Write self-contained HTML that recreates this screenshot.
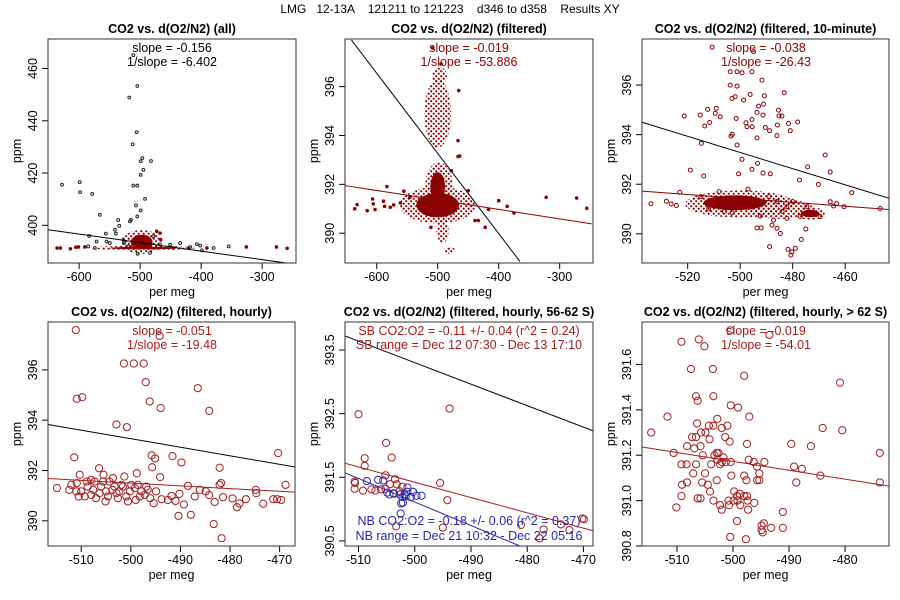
<!DOCTYPE html>
<html><head><meta charset="utf-8"><style>
html,body{margin:0;padding:0;background:#fff}
svg{display:block;font-family:"Liberation Sans",sans-serif}
</style></head><body>
<svg id="chart" width="900" height="600" viewBox="0 0 900 600">
<defs>
<pattern id="speckle" width="5" height="5" patternUnits="userSpaceOnUse">
<circle cx="1.2" cy="1.2" r="1.1" fill="#8b0000"/><circle cx="3.7" cy="3.7" r="1.1" fill="#8b0000"/>
</pattern>
</defs>
<text x="450" y="13" text-anchor="middle" font-size="12" xml:space="preserve">LMG   12-13A    121211 to 121223    d346 to d358    Results XY</text>
</svg>
<script>
// ---- Panel 1 (all)
const p1Black = [[-628,415.5],[-598.9,416.5],[-598.4,412.7],[-578.6,412],[-566,404],[-583.6,395.9],[-535.9,402],[-534.2,399.8],[-541.3,398.3],[-556.1,396.8],[-555,393.8],[-517.8,448.9],[-504.6,453.3],[-512.3,431],[-505.7,435.6],[-496.4,425.7],[-494.7,421.2],[-499.1,419.3],[-499.1,424.5],[-511.2,415.2],[-504.6,415.2],[-506.8,407.6],[-499.1,405.7],[-504.6,403.4],[-492,410.1],[-482.1,424.6],[-516.7,401.5],[-515,402.1],[-539.7,396.8],[-549.6,393.2],[-526.5,393.2],[-478.3,395.8],[-467.3,392.6],[-450.9,392.6],[-434.4,393.2],[-418,391.7],[-407,392.8],[-401.5,392.2],[-398.8,390.4],[-379.6,391.3],[-354.9,391.9],[-511.2,465.1],[-527.6,394.5],[-519.4,391.9],[-571.5,393.8],[-585.2,391.9],[-574.2,391.3],[-483.8,389.4],[-504.1,389.1]];
const p1Red = [[-636.2,391.3],[-630.7,391.3],[-614.3,391],[-605.5,391.6],[-601.1,391.7],[-590.7,391.7],[-325.9,391.7],[-276.5,391.7],[-259,391.2],[-390.6,391.3],[-420.7,391.3],[-445.4,391.3],[-466.2,394.5],[-467.3,397],[-472.8,397.7]];
const p1Solid = [[-497.5,393.6,18,2.8],[-494.7,391.3,55,0.5]];
const p1Speckle = [[-497.5,393.6,32,4.6],[-494.7,391.3,85,0.9]];
const p1Fit = [-651,398.3,-261.7,385.6];
// ---- Panel 2 (filtered)
const p2Red = [[-636.1,391],[-632.2,391.17],[-615.6,390.92],[-605.6,391.2],[-606.7,391.4],[-602.8,390.97],[-588.9,391.31],[-587.2,391.1],[-583.3,391.91],[-577.8,391.06],[-572.2,391.16],[-561.1,391.24],[-555.6,391.72],[-545.6,391.47],[-322.2,391.47],[-272.2,391.44],[-255.6,391.02],[-375,390.83],[-400,391.33],[-386.1,391.1],[-416.7,390.97],[-422.2,390.24],[-433.3,390.52],[-465.6,395.84],[-466.7,393.79],[-466.7,393.14],[-463.9,393.16],[-477.8,392.56],[-450,391.74],[-511.1,390.24],[-438.9,390.52],[-494.4,396.93],[-508.3,397.58]];
const p2Solid = [[-500,391.15,35,0.5],[-500,391.9,12,0.6]];
const p2Speckle = [[-500,391.15,62,0.75],[-498,392.0,22,0.9],[-500,394.9,22,1.4],[-497,396.45,12,0.35],[-492,390.1,10,0.5],[-480.6,389.3,9,0.14]];
const p2FitBlack = [-641.5,397.91,-365.1,388.84];
const p2FitRed = [-651.9,391.95,-247.5,390.38];
// ---- Panel 3 (10-minute)
const p3Red = [[-510.7,397.53],[-494.9,397.35],[-503.8,396.54],[-501.2,396.54],[-499.3,396.5],[-495.5,396.54],[-491.7,396.2],[-503.8,396],[-501.2,395.96],[-496.2,395.62],[-490.8,395.57],[-483.2,395.69],[-503.1,395.46],[-501.9,395.53],[-498.7,395.39],[-493,395.15],[-491.1,395.23],[-521.3,394.75],[-512.4,395.02],[-509.1,395.06],[-509.5,394.86],[-515.2,394.79],[-513.5,394.35],[-511.6,394.49],[-507.6,394.72],[-501.5,394.65],[-497.8,394.48],[-495.5,394.61],[-493.6,394.9],[-491.3,394.79],[-485.4,394.99],[-481.6,394.45],[-478.1,394.51],[-485.2,394.76],[-497.4,394.32],[-495.4,394.32],[-490.4,394.29],[-488.8,394.16],[-485.8,394.39],[-503.5,393.94],[-503,394.01],[-493.6,393.87],[-486,393.96],[-480.9,394.16],[-514.8,393.65],[-501.2,393.58],[-484.1,394.75],[-467.6,393.18],[-474.3,392.7],[-465.7,392.49],[-499.3,393],[-493.4,392.84],[-495.5,392.6],[-488.5,392.42],[-491.3,392.45],[-519,392.57],[-513.9,392.33],[-500.6,392.42],[-477.4,392.17],[-470.2,391.99],[-457.5,391.66],[-523,391.67],[-534,391.21],[-528.1,391.31],[-526.3,391.2],[-524.3,391.14],[-493.6,390.24],[-492,390.24],[-487.9,390.35],[-486,390.22],[-484.7,390.01],[-475,390.19],[-476.7,389.77],[-488.8,389.48],[-481.8,389.37],[-480.7,389.14],[-479,389.41],[-480.3,389.27],[-492.3,390.71],[-487.3,390.55],[-482.2,390.62],[-477.1,390.69],[-472.1,390.82],[-469.5,390.69],[-482.2,391.09],[-474.6,391.09],[-464.4,391.12],[-460.4,391.09],[-446.7,391.02],[-465.7,391.29],[-463.2,391.22],[-515,391.5],[-512,391.0],[-508,391.7],[-506,390.9],[-489,391.5],[-486,391.3],[-484,390.9],[-480,391.3],[-497,391.8],[-503,390.85]];
const p3Solid = [[-502,391.25,12,0.3],[-473.3,390.82,3.5,0.15]];
const p3Speckle = [[-500,391.2,21,0.55],[-485,391.0,13,0.4],[-473.3,390.82,6,0.25]];
const p3FitBlack = [-537.4,394.5,-443.3,391.43];
const p3FitRed = [-537.4,391.72,-443.3,390.98];
// ---- Panel 4 (hourly)
const p4Red = [[-511.1,397.58],[-494.2,397.35],[-501.4,396.25],[-499.4,396.25],[-497.4,396.25],[-497,395.51],[-486.5,395.27],[-510.9,394.85],[-509.8,394.91],[-496.2,394.74],[-494,394.48],[-484.2,394.37],[-502.9,393.83],[-500.8,393.72],[-511.4,392.52],[-495.8,392.6],[-495.1,392.48],[-491.6,392.57],[-489.8,392.32],[-495.7,392.13],[-494.1,391.74],[-470.3,392.69],[-482.1,392.11],[-468.8,391.43],[-490.4,390.2],[-487.9,390.24],[-483.3,389.87],[-481.7,389.31],[-514.9,391.3],[-512,391.43],[-510.9,391.5],[-510.3,391.83],[-510.5,390.97],[-508.9,391.56],[-507.6,391.23],[-506.4,392.09],[-506.3,391.1],[-505.5,391.83],[-505.1,390.77],[-504.3,391.56],[-503.3,391.36],[-502.3,391.17],[-501.3,391.76],[-500.9,390.97],[-499.9,391.43],[-499,390.83],[-498.8,391.89],[-497.9,391.17],[-496.9,391.36],[-496.1,390.9],[-495.4,390.7],[-494.9,391.17],[-493.8,390.86],[-492.5,390.83],[-491.8,390.99],[-491,390.79],[-490.2,391.07],[-489.3,390.65],[-488.5,391.39],[-487.1,390.97],[-486.1,391.23],[-484.9,391.17],[-484.2,391.02],[-483.1,390.75],[-482.1,391.43],[-481.8,391.5],[-481.4,390.94],[-479.5,390.89],[-478.6,390.54],[-478.1,390.69],[-476.8,390.86],[-474.8,391.23],[-474.7,391.1],[-473.3,390.68],[-471.3,390.86],[-470.5,390.86],[-469.7,390.83],[-510,391.17],[-508.7,391.36],[-507.3,391.56],[-506,391.36],[-505,391.17],[-503.7,391.23],[-502.9,391.1],[-501.9,391.43],[-500.2,391.17],[-499.2,391.3],[-498.2,390.97],[-497.2,391.03],[-496.6,391.23],[-509.3,390.97],[-508,391.03],[-507,390.9],[-504.6,390.97],[-502.6,390.9],[-501.6,391.36],[-500.6,390.77],[-498.6,391.43],[-511,391.17],[-512.4,391.23],[-508,391.63],[-505.6,391.56],[-503.6,391.7]];
const p4FitBlack = [-516.7,393.83,-466.9,392.14];
const p4FitRed = [-516.7,391.68,-466.9,391.14];
// ---- Panel 5 (56-62 S)
const p5SB = [[-510,392.49],[-505.1,392.04],[-508.9,391.8],[-508.9,391.68],[-504.1,391.81],[-505.2,391.53],[-503.5,391.47],[-503.2,391.39],[-502.7,391.28],[-505.2,391.32],[-506,391.31],[-510.7,391.43],[-510.6,391.41],[-510.7,391.32],[-509.2,391.29],[-507.7,391.31],[-507,391.29],[-504.4,391.39],[-503.8,391.25],[-502.2,391.35],[-495.5,391.41],[-494.2,391.14],[-493.8,392.58],[-503.3,390.73],[-495,390.71],[-481.1,390.75],[-477.1,390.68],[-472.5,390.67],[-477.8,390.54],[-474,390.76],[-470.2,390.85],[-469.9,390.84]];
const p5NB = [[-508.5,391.44],[-506.5,391.46],[-505.6,391.45],[-504.9,391.26],[-504.5,391.23],[-503.7,391.24],[-502.6,391.23],[-502.2,391.19],[-501.8,391.23],[-501.3,391.34],[-501.3,391.27],[-500.7,391.19],[-500.3,391.27],[-499.7,391.21],[-498.8,391.21],[-502.4,391.09],[-502.1,391.1],[-502.5,390.93],[-501.6,391.2]];
const p5FitBlack = [-512.4,393.72,-468.3,392.23];
const p5FitSB = [-512.4,391.72,-468.3,390.66];
const p5FitNB = [-512.4,391.57,-481.3,390.42];
// ---- Panel 6 (> 62 S)
const p6Red = [[-514.6,391.3],[-509.2,391.7],[-506.1,391.71],[-505.1,391.68],[-500.5,391.75],[-493.5,391.73],[-507.5,391.58],[-503.6,391.58],[-498,391.55],[-480.9,391.52],[-506.6,391.46],[-506.3,391.44],[-503.5,391.46],[-500.4,391.42],[-499.1,391.41],[-497.1,391.37],[-511.7,391.37],[-502.8,391.36],[-506.4,391.34],[-504.3,391.33],[-503.5,391.33],[-502,391.32],[-501,391.33],[-504.9,391.3],[-505.7,391.3],[-507.3,391.28],[-506.6,391.28],[-504.2,391.27],[-501.4,391.28],[-500.6,391.26],[-497.5,391.25],[-508.2,391.24],[-505.8,391.24],[-506.9,391.23],[-510.6,391.21],[-505.4,391.2],[-502.9,391.21],[-503.3,391.2],[-502.6,391.21],[-501.3,391.17],[-500.4,391.17],[-497.2,391.18],[-496.3,391.17],[-494.4,391.17],[-489.6,391.25],[-486.1,391.24],[-484,391.32],[-480.5,391.31],[-473.8,391.21],[-509.2,391.16],[-508.3,391.16],[-506.6,391.16],[-503.9,391.16],[-502.8,391.18],[-502.3,391.16],[-502,391.17],[-501.7,391.19],[-495.7,391.15],[-495.3,391.09],[-489.1,391.15],[-487.7,391.14],[-488.7,391.08],[-484.4,391.11],[-473.8,391.08],[-507.1,391.12],[-505,391.12],[-500.3,391.11],[-498,391.11],[-495.3,391.12],[-497.6,391.09],[-495.7,391.09],[-509.1,391.07],[-508.2,391.08],[-505.5,391.08],[-504.5,391.07],[-502.9,391.09],[-499.8,391.04],[-504.1,391.04],[-498.8,391.03],[-497.5,391.02],[-506.3,391.01],[-505.8,391.01],[-509.2,391.02],[-503.5,391],[-500.8,391],[-499.9,391],[-499.3,391.02],[-499.2,391],[-498,391.02],[-497.4,391],[-496.2,390.99],[-510.1,390.97],[-502.3,390.98],[-502,390.96],[-500.7,390.98],[-498.7,390.98],[-497.3,390.96],[-491.1,390.95],[-499.3,390.91],[-494.5,390.9],[-494.9,390.89],[-494.9,390.87],[-494.7,390.86],[-493.2,390.88],[-491.1,390.88],[-500.5,390.84],[-497.7,390.83]];
const p6FitRed = [-516.24,391.236,-472.16,391.064];
// ---- Ticks
const xTicksWide = [-600,-500,-400,-300];
const xTicks3 = [-520,-500,-480,-460];
const xTicksHourly = [-510,-500,-490,-480,-470];
const xTicks6 = [-510,-500,-490,-480];
const yTicks1 = [400,420,440,460];
const yTicks23 = [390,392,394,396];
const yTicks5 = [390.5,391.5,392.5,393.5];
const yTicks6 = [390.8,391.0,391.2,391.4,391.6];

const NS='http://www.w3.org/2000/svg';
const svg=document.getElementById('chart');
const RED='#8b0000', CRED='#a31d1d', BLUE='#2727b0';
function mk(tag,attrs,parent){const e=document.createElementNS(NS,tag);for(const k in attrs)e.setAttribute(k,attrs[k]);(parent||svg).appendChild(e);return e;}

function panel(cfg){
  const {id,L,T,W,H,xlim,ylim}=cfg;
  const g=mk('g',{});
  
  
  const sx=v=>L+(v-xlim[0])/(xlim[1]-xlim[0])*W;
  const sy=v=>T+H-(v-ylim[0])/(ylim[1]-ylim[0])*H;
  const cp=mk('clipPath',{id:'clip-'+id},g);
  mk('rect',{x:L,y:T,width:W,height:H},cp);
  const plot=mk('g',{'clip-path':'url(#clip-'+id+')'},g);
  
  
  const t=mk('text',{x:L+W/2,y:T-6,'text-anchor':'middle','font-size':12.5,'font-weight':'bold'},g);
  t.textContent=cfg.title;
  
  
  cfg.xt.forEach(v=>{
    const x=sx(v);
    mk('line',{x1:x,y1:T+H,x2:x,y2:T+H+6,stroke:'#000'},g);
    const lb=mk('text',{x:x,y:T+H+18,'text-anchor':'middle','font-size':12.5},g);
    lb.textContent=String(v);
    
    
  });
  cfg.yt.forEach(v=>{
    const y=sy(v);
    mk('line',{x1:L-6,y1:y,x2:L,y2:y,stroke:'#000'},g);
    const lb=mk('text',{x:L-11,y:y,'text-anchor':'middle','font-size':12.5,transform:`rotate(-90 ${L-11} ${y})`},g);
    lb.textContent=cfg.yfmt?cfg.yfmt(v):String(v);
    
    
  });
  const xl=mk('text',{x:L+W/2,y:T+H+33,'text-anchor':'middle','font-size':12.5},g);
  xl.textContent='per meg';
  
  
  const yx=L-27, yy=T+H/2;
  const yl=mk('text',{x:yx,y:yy,'text-anchor':'middle','font-size':12.5,transform:`rotate(-90 ${yx} ${yy})`},g);
  yl.textContent='ppm';
  
  
  const blob=(b,fill)=>{
    const e=mk('ellipse',{cx:sx(b[0]),cy:sy(b[1]),rx:Math.abs(sx(b[0]+b[2])-sx(b[0])),ry:Math.abs(sy(b[1]+b[3])-sy(b[1])),fill:fill},plot);
    
    
  };
  (cfg.speckle||[]).forEach(b=>blob(b,'url(#speckle)'));
  (cfg.solid||[]).forEach(b=>blob(b,RED));
  (cfg.series||[]).forEach(s=>{
    s.pts.forEach(p=>{
      const c=mk('circle',{cx:sx(p[0]),cy:sy(p[1]),r:s.r,fill:s.fill||'none',stroke:s.color,'stroke-width':s.sw||1},plot);
      
      
    });
  });
  (cfg.lines||[]).forEach(l=>{
    const d=l.d;
    const ln=mk('line',{x1:sx(d[0]),y1:sy(d[1]),x2:sx(d[2]),y2:sy(d[3]),stroke:l.color,'stroke-width':1},plot);
    
    
  });
  (cfg.notes||[]).forEach(n=>{
    const tx=mk('text',{x:n.x,y:n.y,'text-anchor':'middle','font-size':12.5,fill:n.color},g);
    tx.textContent=n.text;
    
    
  });
  mk('rect',{x:L,y:T,width:W,height:H,fill:'none',stroke:'#333','stroke-width':1},g);
}

panel({id:'all',L:48,T:39,W:248,H:224,xlim:[-651,-244.5],ylim:[385.57,471.3],title:'CO2 vs. d(O2/N2) (all)',xt:xTicksWide,yt:yTicks1,
  solid:p1Solid,speckle:p1Speckle,
  series:[{pts:p1Red,r:1.3,color:RED,fill:RED,name:'filtered-point'},{pts:p1Black,r:1.4,color:'#222',fill:'none',name:'all-point'}],
  lines:[{d:p1Fit,color:'#000',name:'fit-line'}],
  notes:[{x:172,y:52,text:'slope = -0.156',color:'#000',name:'slope-label'},{x:172,y:66,text:'1/slope = -6.402',color:'#000',name:'inverse-slope-label'}]});
panel({id:'filtered',L:345,T:39,W:248,H:224,xlim:[-652,-245.4],ylim:[388.78,397.95],title:'CO2 vs. d(O2/N2) (filtered)',xt:xTicksWide,yt:yTicks23,
  solid:p2Solid,speckle:p2Speckle,
  series:[{pts:p2Red,r:1.3,color:RED,fill:RED,name:'filtered-point'}],
  lines:[{d:p2FitBlack,color:'#000',name:'inverse-fit-line'},{d:p2FitRed,color:RED,name:'fit-line'}],
  notes:[{x:469,y:52,text:'slope = -0.019',color:RED,name:'slope-label'},{x:469,y:66,text:'1/slope = -53.886',color:RED,name:'inverse-slope-label'}]});
panel({id:'ten-minute',L:642,T:39,W:247,H:224,xlim:[-537.4,-443.3],ylim:[388.82,397.86],title:'CO2 vs. d(O2/N2) (filtered, 10-minute)',xt:xTicks3,yt:yTicks23,
  solid:p3Solid,speckle:p3Speckle,
  series:[{pts:p3Red,r:2,color:RED,name:'ten-minute-point'}],
  lines:[{d:p3FitBlack,color:'#000',name:'inverse-fit-line'},{d:p3FitRed,color:RED,name:'fit-line'}],
  notes:[{x:766,y:52,text:'slope = -0.038',color:RED,name:'slope-label'},{x:766,y:66,text:'1/slope = -26.43',color:RED,name:'inverse-slope-label'}]});
panel({id:'hourly',L:48,T:322,W:247,H:224,xlim:[-516.7,-466.9],ylim:[389.0,397.9],title:'CO2 vs. d(O2/N2) (filtered, hourly)',xt:xTicksHourly,yt:yTicks23,
  series:[{pts:p4Red,r:3.6,color:CRED,name:'hourly-point'}],
  lines:[{d:p4FitBlack,color:'#000',name:'inverse-fit-line'},{d:p4FitRed,color:CRED,name:'fit-line'}],
  notes:[{x:172,y:335,text:'slope = -0.051',color:CRED,name:'slope-label'},{x:172,y:349,text:'1/slope = -19.48',color:CRED,name:'inverse-slope-label'}]});
panel({id:'hourly-56-62s',L:345,T:322,W:248,H:224,xlim:[-512.4,-468.3],ylim:[390.42,393.94],title:'CO2 vs. d(O2/N2) (filtered, hourly, 56-62 S)',xt:xTicksHourly,yt:yTicks5,
  series:[{pts:p5SB,r:3.6,color:CRED,name:'southbound-point'},{pts:p5NB,r:3.6,color:BLUE,name:'northbound-point'}],
  lines:[{d:p5FitBlack,color:'#000',name:'inverse-fit-line'},{d:p5FitSB,color:CRED,name:'southbound-fit-line'},{d:p5FitNB,color:BLUE,name:'northbound-fit-line'}],
  notes:[{x:469,y:335,text:'SB CO2:O2 = -0.11 +/- 0.04 (r^2 = 0.24)',color:CRED,name:'southbound-slope-label'},{x:469,y:349,text:'SB range = Dec 12 07:30 - Dec 13 17:10',color:CRED,name:'southbound-range-label'},
         {x:469,y:525,text:'NB CO2:O2 = -0.18 +/- 0.06 (r^2 = 0.37)',color:BLUE,name:'northbound-slope-label'},{x:469,y:540,text:'NB range = Dec 21 10:32 - Dec 22 05:16',color:BLUE,name:'northbound-range-label'}]});
panel({id:'hourly-over-62s',L:642,T:322,W:247,H:224,xlim:[-516.24,-472.16],ylim:[390.8,391.787],title:'CO2 vs. d(O2/N2) (filtered, hourly, > 62 S)',xt:xTicks6,yt:yTicks6,yfmt:v=>v.toFixed(1),
  series:[{pts:p6Red,r:3.6,color:CRED,name:'hourly-point'}],
  lines:[{d:p6FitRed,color:CRED,name:'fit-line'}],
  notes:[{x:766,y:335,text:'slope = -0.019',color:CRED,name:'slope-label'},{x:766,y:349,text:'1/slope = -54.01',color:CRED,name:'inverse-slope-label'}]});
</script>
</body></html>
